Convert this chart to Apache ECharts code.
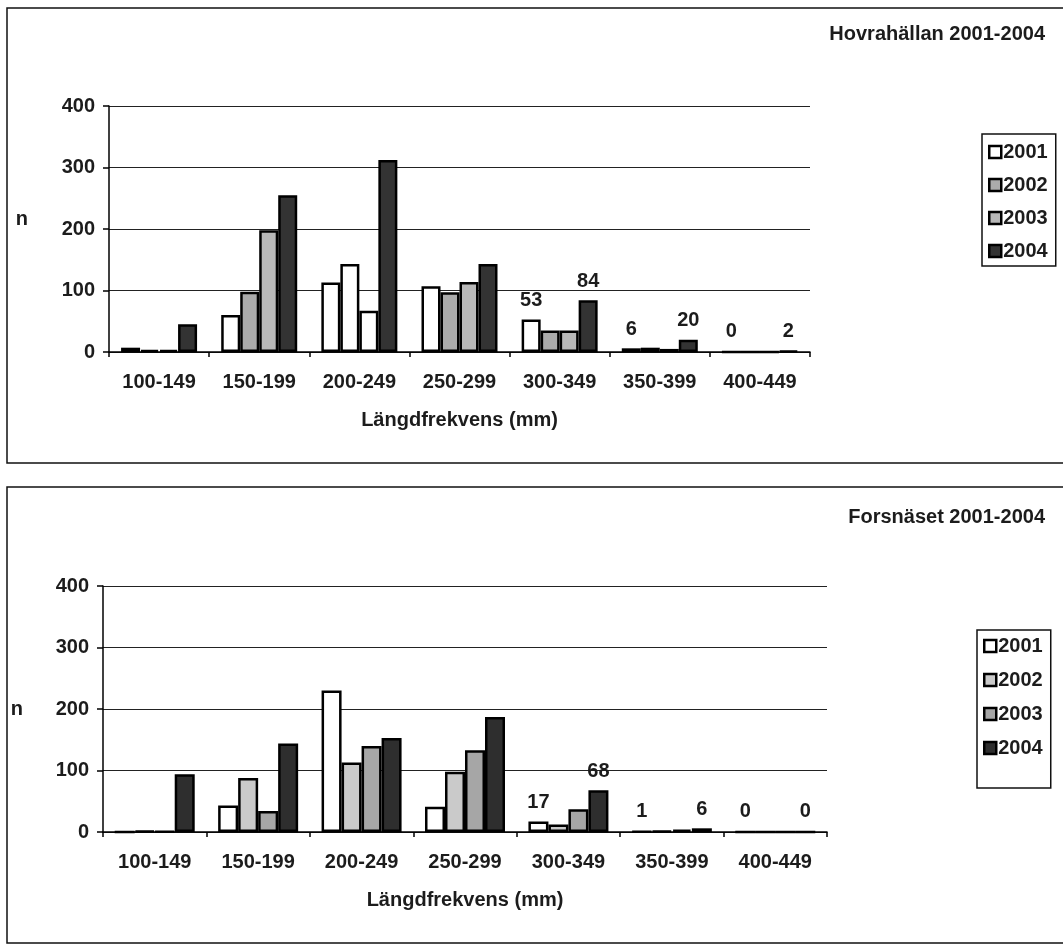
<!DOCTYPE html>
<html>
<head>
<meta charset="utf-8">
<script src="https://cdn.jsdelivr.net/npm/echarts@6/dist/echarts.min.js"></script>
<style>
  html, body { margin: 0; padding: 0; background: #fff; }
  #chart { width: 1063px; height: 947px; }
</style>
</head>
<body>
<div id="chart"></div>
<script>
// Length classes (mm) and survey years
const categories = ['100-149', '150-199', '200-249', '250-299', '300-349', '350-399', '400-449'];
const years = ['2001', '2002', '2003', '2004'];

// Hovrahällan, catch per length class
const hovra2001 = [7, 60, 113, 107, 53, 6, 0];
const hovra2002 = [3, 98, 143, 97, 35, 7, 0];
const hovra2003 = [3, 198, 67, 114, 35, 5, 0];
const hovra2004 = [45, 255, 312, 143, 84, 20, 2];

// Forsnäset, catch per length class
const forsn2001 = [0, 43, 230, 41, 17, 1, 0];
const forsn2002 = [2, 88, 113, 98, 12, 2, 0];
const forsn2003 = [1, 34, 140, 133, 37, 4, 0];
const forsn2004 = [94, 144, 153, 187, 68, 6, 0];

// Value axis
const yMin = 0, yMax = 400, yStep = 100;

const FONT = '"Liberation Sans", Arial, sans-serif';
const INK = '#1c1c1c';
const txt = (size) => ({
  fontFamily: FONT, fontSize: size, color: INK, fontWeight: 'bold'
});

// Categories from this index on carry value labels on the first and last year
const labelFrom = 4;
const labelledYears = [0, 3];

const panels = [
  {
    title: 'Hovrahällan 2001-2004',
    values: [hovra2001, hovra2002, hovra2003, hovra2004],
    fills: ['#ffffff', '#ababab', '#b8b8b8', '#333333'],
    grid: { left: 109, right: 253, top: 106, height: 246 },
    box: { y: 8, h: 455 },
    titleTop: 19,
    legend: { left: 982, top: 134, gap: 13, padding: [8, 8, 5, 6] },
    barWidth: 19,
    nameGap: 81,
    nameAlign: 'bottom',
    pale: [[1, 2], [2, 2]]   // bars printed without fill
  },
  {
    title: 'Forsnäset 2001-2004',
    values: [forsn2001, forsn2002, forsn2003, forsn2004],
    fills: ['#ffffff', '#cacaca', '#a6a6a6', '#2e2e2e'],
    grid: { left: 103, right: 236, top: 586, height: 246 },
    box: { y: 487, h: 456 },
    titleTop: 502,
    legend: { left: 977, top: 630, gap: 14, padding: [6, 8, 30, 6] },
    barWidth: 20,
    nameGap: 80,
    nameAlign: 'middle',
    pale: []
  }
];

const option = {
  backgroundColor: '#ffffff',
  animation: false,
  title: [], grid: [], xAxis: [], yAxis: [], legend: [], series: [],
  graphic: []
};

panels.forEach((p, i) => {
  option.graphic.push({
    type: 'rect', z: 0,
    shape: { x: 7, y: p.box.y, width: 1070, height: p.box.h },
    style: { fill: 'none', stroke: '#111', lineWidth: 1.5 }
  });

  option.title.push({
    text: p.title, right: 13, top: p.titleTop,
    textStyle: txt(20)
  });

  option.grid.push(Object.assign({ containLabel: false }, p.grid));

  option.xAxis.push({
    gridIndex: i, type: 'category', data: categories,
    axisLine: { lineStyle: { color: '#000', width: 1.5 } },
    axisTick: { show: true, length: 5, interval: 0, lineStyle: { color: '#000', width: 1.5 } },
    axisLabel: Object.assign(txt(20), { margin: 20, interval: 0 }),
    splitLine: { show: false },
    name: 'Längdfrekvens (mm)', nameLocation: 'middle', nameGap: 58,
    nameTextStyle: txt(20)
  });

  option.yAxis.push({
    gridIndex: i, type: 'value', min: yMin, max: yMax, interval: yStep,
    axisLine: { show: true, lineStyle: { color: '#000', width: 1.5 } },
    axisTick: { show: true, length: 6, lineStyle: { color: '#000', width: 1.5 } },
    splitLine: { show: true, lineStyle: { color: '#222', width: 1.2 } },
    axisLabel: Object.assign(txt(20), { margin: 14 }),
    name: 'n', nameLocation: 'middle', nameRotate: 0, nameGap: p.nameGap,
    nameTextStyle: Object.assign(txt(20), { verticalAlign: p.nameAlign })
  });

  option.legend.push({
    orient: 'vertical', left: p.legend.left, top: p.legend.top,
    padding: p.legend.padding, itemGap: p.legend.gap,
    itemWidth: 12, itemHeight: 12, icon: 'rect',
    borderColor: '#111', borderWidth: 1.5, borderRadius: 0,
    selectedMode: false,
    textStyle: Object.assign(txt(20), { padding: [0, 0, 0, -3] }),
    data: years.map((y, k) => ({
      name: y,
      itemStyle: { color: p.fills[k], borderColor: '#000', borderWidth: 2.5 }
    }))
  });

  p.values.forEach((vals, k) => {
    const data = vals.map((v, c) => {
      const item = { value: v };
      if (labelledYears.includes(k) && c >= labelFrom) item.label = { show: true };
      if (p.pale.some(([s, cat]) => s === k && cat === c)) item.itemStyle = { color: '#ffffff' };
      return item;
    });
    option.series.push({
      type: 'bar', name: years[k],
      xAxisIndex: i, yAxisIndex: i,
      barWidth: p.barWidth, barGap: '0%',
      itemStyle: { color: p.fills[k], borderColor: '#000', borderWidth: 2.5 },
      label: Object.assign(txt(20), { show: false, position: 'top', distance: 9, formatter: '{c}' }),
      data
    });
  });
});

const chart = echarts.init(document.getElementById('chart'), null, { renderer: 'canvas' });
chart.setOption(option);
</script>
</body>
</html>
